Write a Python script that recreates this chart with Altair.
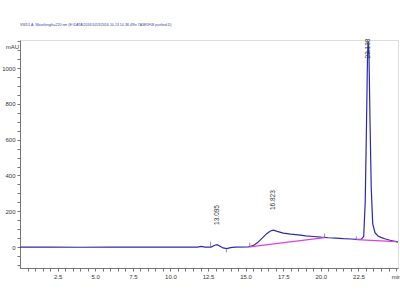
import altair as alt
import pandas as pd

# Signal trace (VWD1 A, 220 nm) - time in min, absorbance in mAU
sig_time = [0, 2, 4, 6, 8, 10, 11.8, 12.05, 12.3, 12.7, 12.95, 13.1, 13.3, 13.5, 13.75,
            14.0, 14.3, 15.2, 15.5, 15.8, 16.1, 16.4, 16.65, 16.85, 17.1, 17.5, 18.0,
            18.5, 19.0, 19.5, 20.0, 20.5, 21.0, 21.5, 22.0, 22.4, 22.7, 22.85, 22.95,
            23.03, 23.1, 23.14, 23.2, 23.27, 23.35, 23.45, 23.6, 23.8, 24.0, 24.3, 24.6,
            25.0, 25.13]
sig_mau = [0, 0, -1, 0, 0, 0, 0, 4, 0, 0, 10, 13, 5, -5, -9,
           -3, 0, 1, 8, 25, 50, 75, 90, 95, 88, 78, 72,
           68, 63, 59, 55, 52, 50, 47, 45, 43, 44, 60, 250,
           650, 1050, 1150, 1080, 700, 330, 130, 80, 62, 54, 45, 38,
           30, 28]

# Integration baselines
base_seg = [1, 1, 2, 2]
base_time = [15.27, 20.25, 22.36, 25.0]
base_mau = [1, 53, 41, 30]

# Integration event markers
mark_time = [12.67, 13.72, 15.27, 20.25, 22.36]
mark_lo = [0, -10, 0, 53, 40]
mark_hi = [30, -30, 25, 75, 60]

# Peak retention time labels
peak_time = [13.1, 16.85, 23.14]
peak_top = [235, 318, 1165]
peak_label = ["13.095", "16.823", "23.138"]

# Axis ticks / labels
x_tick_vals = [round(0.5 * i, 1) for i in range(1, 51)]
x_label_vals = [2.5, 5, 7.5, 10, 12.5, 15, 17.5, 20, 22.5]
y_tick_vals = [50 * i for i in range(-2, 24)]
y_label_vals = [0, 200, 400, 600, 800, 1000]

sig = pd.DataFrame({"t": sig_time, "v": sig_mau})
base = pd.DataFrame({"seg": base_seg, "t": base_time, "v": base_mau})
marks = pd.DataFrame({"t": mark_time, "lo": mark_lo, "hi": mark_hi})
peaks = pd.DataFrame({"t": peak_time, "v": peak_top, "lab": peak_label})

xdom = [0, 25.13]
ydom = [-117, 1157]

xs = alt.Scale(domain=xdom, nice=False, zero=False)
ys = alt.Scale(domain=ydom, nice=False, zero=False)

x_lab_expr = "datum.value == 25 ? 'min' : (indexof(" + str(x_label_vals) + ", datum.value) >= 0 ? datum.label : '')"
y_lab_expr = "indexof(" + str(y_label_vals) + ", datum.value) >= 0 ? datum.label : ''"

x_axis = alt.Axis(values=x_tick_vals, tickCount=200, grid=False, tickSize=3, labelFontSize=6,
                  labelColor="#333", domainColor="#777", tickColor="#777",
                  labelPadding=2, title=None, labelFlush=False, labelOverlap=False,
                  labelExpr=x_lab_expr)
y_axis = alt.Axis(values=y_tick_vals, tickCount=200, grid=False, tickSize=3, labelFontSize=6,
                  labelColor="#333", domainColor="#777", tickColor="#777", format="d",
                  labelPadding=2, title="mAU", titleAngle=0, titleFontSize=6,
                  titleFontWeight="normal", titleColor="#333", titleX=-8, titleY=6,
                  titleAlign="center", titleBaseline="middle", labelOverlap=False,
                  labelFlush=False, labelExpr=y_lab_expr)

line = alt.Chart(sig).mark_line(color="#2a2ab0", strokeWidth=1.2, clip=True).encode(
    x=alt.X("t:Q", scale=xs, axis=x_axis),
    y=alt.Y("v:Q", scale=ys, axis=y_axis),
)

bl = alt.Chart(base).mark_line(color="#e040e0", strokeWidth=1.3).encode(
    x=alt.X("t:Q", scale=xs),
    y=alt.Y("v:Q", scale=ys),
    detail="seg:N",
)

mk = alt.Chart(marks).mark_rule(color="#777", strokeWidth=0.8).encode(
    x=alt.X("t:Q", scale=xs),
    y=alt.Y("lo:Q", scale=ys),
    y2="hi:Q",
)

lab = alt.Chart(peaks).mark_text(angle=270, align="right", baseline="middle",
                                 fontSize=6.5, color="#333", clip=False).encode(
    x=alt.X("t:Q", scale=xs),
    y=alt.Y("v:Q", scale=ys),
    text="lab:N",
)

chart = alt.layer(line, bl, mk, lab).properties(
    width=378, height=228,
    padding={"left": 20, "top": 40, "right": 2, "bottom": 32},
    autosize=alt.AutoSizeParams(type="none"),
    background="white",
    title=alt.TitleParams(
        "VWD1 A, Wavelength=220 nm (E:\\DATA\\2016\\1013\\2016-10-13 14-38-49\\n 7A3E5F08 purified.D)",
        anchor="start", frame="group", fontSize=3.5, fontWeight="normal", color="#3a3aa8",
        offset=12, font="Liberation Sans"),
).configure_view(stroke=None).configure(font="Liberation Sans")

chart.save("out.html", embed_options={"renderer": "svg", "actions": False})
